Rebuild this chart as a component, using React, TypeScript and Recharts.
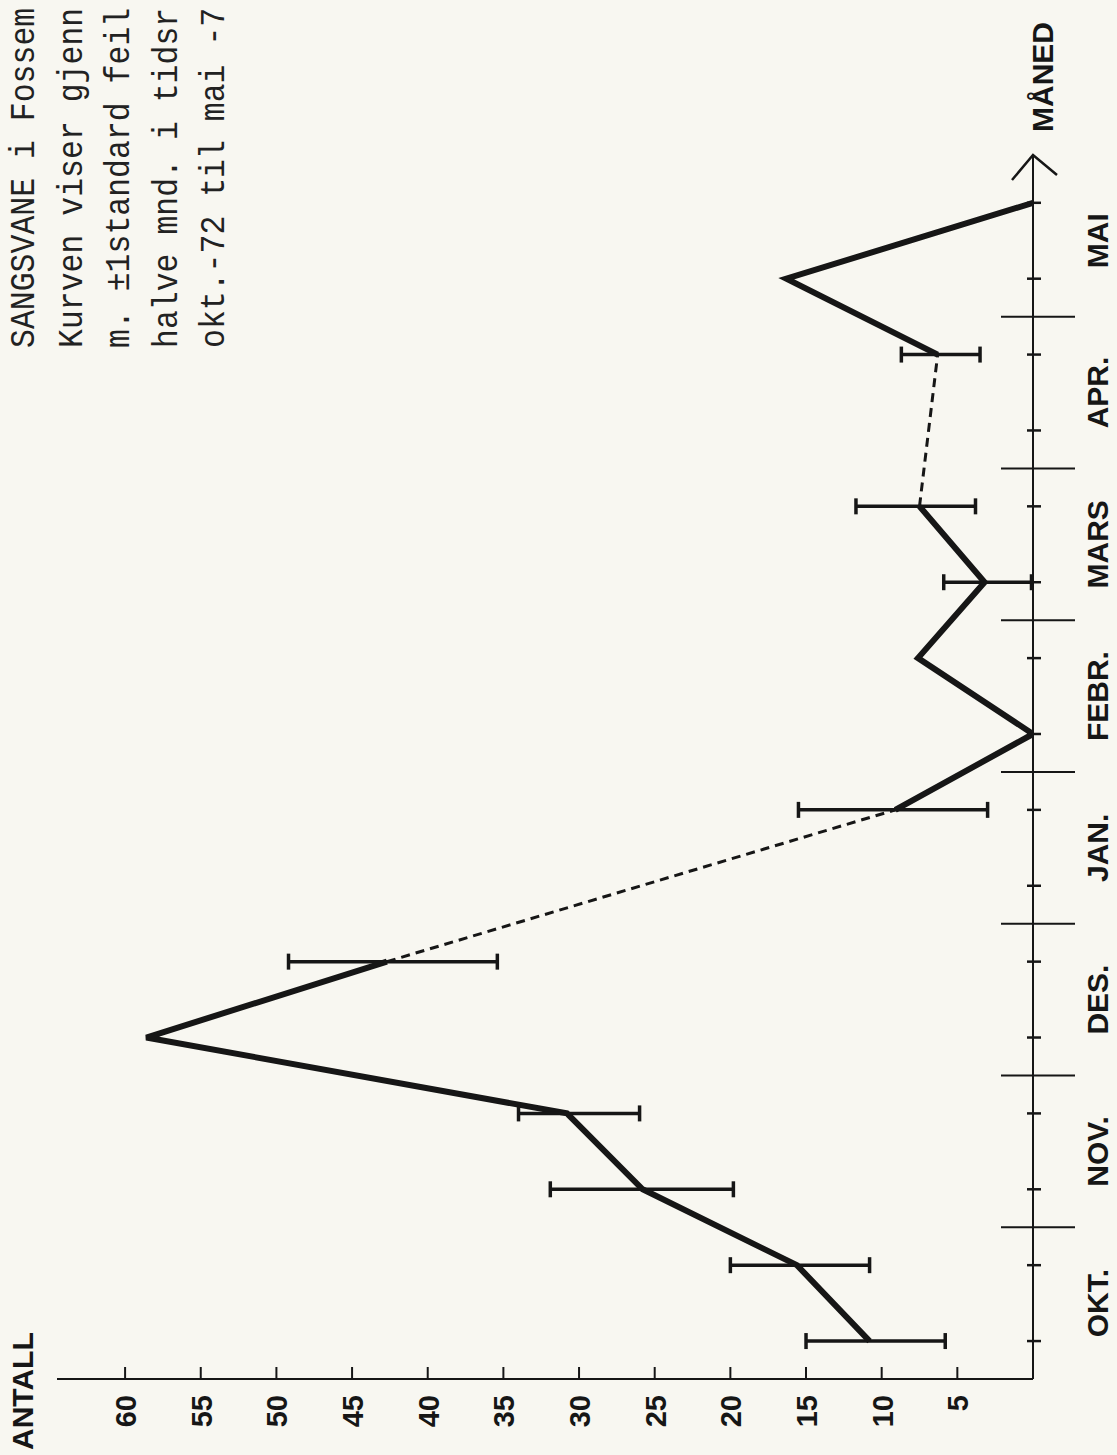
import React from 'react';
import { LineChart, Line, XAxis, YAxis, ErrorBar } from 'recharts';

// half-month slots, OKT. 1st half .. MAI 2nd half
const halfMonths = [
  'okt1', 'okt2', 'nov1', 'nov2', 'des1', 'des2', 'jan1', 'jan2',
  'feb1', 'feb2', 'mar1', 'mar2', 'apr1', 'apr2', 'mai1', 'mai2',
];
const monthLabels = ['OKT.', 'NOV.', 'DES.', 'JAN.', 'FEBR.', 'MARS', 'APR.', 'MAI'];

// mean count per half month (null = no observation)
const counts = [10.8, 15.6, 25.8, 30.8, 58.6, 42.7, null, 9.1, 0, 7.6, 3.2, 7.5, null, 6.3, 16.3, 0];
// +-1 standard error, read as lower / upper ends of the bars
const lowerBound = [5.8, 10.8, 19.8, 26, null, 35.4, null, 3.0, null, null, 0.1, 3.8, null, 3.5, null, null];
const upperBound = [15, 20, 31.9, 34, null, 49.2, null, 15.5, null, null, 5.9, 11.7, null, 8.7, null, null];

const valueTicks = [5, 10, 15, 20, 25, 30, 35, 40, 45, 50, 55, 60];

const noteLines = [
  'SANGSVANE i Fossem',
  'Kurven viser gjenn',
  'm. \u00b11standard feil',
  'halve mnd. i tidsr',
  'okt.-72 til mai -7',
];

const W = 1455; // unrotated width (becomes page height)
const H = 1117; // unrotated height (becomes page width)
const AXIS_Y = 1033;
const AXIS_X = 76;
const X_END = 16.13;
const INK = '#161616';
const PAPER = '#f8f7f1';

// dashed bridges over the missing half months
const bridge = (gap: number) =>
  counts.map((c, i) => (i === gap - 1 || i === gap + 1 ? c : null));
const dashA = bridge(6);
const dashB = bridge(12);

const data = halfMonths.map((h, i) => {
  const c = counts[i];
  const lo = lowerBound[i];
  const hi = upperBound[i];
  return {
    slot: h,
    pos: i + 0.5,
    solid: c,
    mean: c,
    err: c != null && lo != null && hi != null ? [c - lo, hi - c] : null,
    dashA: dashA[i],
    dashB: dashB[i],
  };
});

const xTicks = [...Array.from({ length: 31 }, (_, k) => (k + 1) / 2), X_END];

const MonthTick = (props: any) => {
  const { x, payload } = props;
  const v = payload.value as number;
  if (v === X_END) {
    return (
      <g>
        <polyline
          points={`${x - 25},${AXIS_Y - 21} ${x},${AXIS_Y} ${x - 20},${AXIS_Y + 24}`}
          fill="none"
          stroke={INK}
          strokeWidth={2.5}
        />
        <text x={x + 23} y={AXIS_Y + 20} fontFamily="Liberation Sans, Arial, sans-serif" fontWeight="bold" fontSize={30} fill={INK}>
          MÅNED
        </text>
      </g>
    );
  }
  const k = Math.round(v * 2);
  if (k % 2 === 1) {
    return <line x1={x} x2={x} y1={AXIS_Y - 6} y2={AXIS_Y + 8} stroke={INK} strokeWidth={2.5} />;
  }
  if (k % 4 === 0) {
    return <line x1={x} x2={x} y1={AXIS_Y - 32} y2={AXIS_Y + 42} stroke={INK} strokeWidth={2} />;
  }
  return (
    <text x={x} y={AXIS_Y + 75} textAnchor="middle" fontFamily="Liberation Sans, Arial, sans-serif" fontWeight="bold" fontSize={30} fill={INK}>
      {monthLabels[(k - 2) / 4]}
    </text>
  );
};

const ValueTick = (props: any) => {
  const { y, payload } = props;
  return (
    <g>
      <line x1={AXIS_X} x2={AXIS_X + 12} y1={y} y2={y} stroke={INK} strokeWidth={2} />
      <text x={60} y={y + 11} textAnchor="end" fontFamily="Liberation Sans, Arial, sans-serif" fontWeight="bold" fontSize={29} fill={INK}>
        {payload.value}
      </text>
    </g>
  );
};

export default function App() {
  return (
    <div style={{ position: 'absolute', left: 0, top: 0, width: H, height: W, overflow: 'hidden', background: PAPER }}>
      <div
        style={{
          position: 'absolute',
          left: 0,
          top: 0,
          width: W,
          height: H,
          transformOrigin: '0 0',
          transform: `translateY(${W}px) rotate(-90deg)`,
        }}
      >
        <LineChart width={W} height={H} data={data} margin={{ top: 57, right: W - 1300, bottom: 0, left: 0 }}>
          <XAxis
            type="number"
            dataKey="pos"
            domain={[0, X_END]}
            ticks={xTicks}
            interval={0}
            height={H - AXIS_Y}
            tickLine={false}
            axisLine={{ stroke: INK, strokeWidth: 2 }}
            tick={<MonthTick />}
            allowDataOverflow
          />
          <YAxis
            type="number"
            domain={[0, 64.5]}
            ticks={valueTicks}
            interval={0}
            width={AXIS_X}
            tickLine={false}
            axisLine={{ stroke: INK, strokeWidth: 2 }}
            tick={<ValueTick />}
            allowDataOverflow
          />
          <Line dataKey="dashA" stroke={INK} strokeWidth={3} strokeDasharray="9 6" dot={false} activeDot={false} connectNulls isAnimationActive={false} />
          <Line dataKey="dashB" stroke={INK} strokeWidth={3} strokeDasharray="9 6" dot={false} activeDot={false} connectNulls isAnimationActive={false} />
          <Line dataKey="solid" stroke={INK} strokeWidth={6} strokeLinejoin="miter" dot={false} activeDot={false} isAnimationActive={false} />
          <Line dataKey="mean" stroke="none" dot={false} activeDot={false} isAnimationActive={false}>
            <ErrorBar dataKey="err" direction="y" width={8} stroke={INK} strokeWidth={3.5} isAnimationActive={false} />
          </Line>
        </LineChart>
        <svg width={W} height={H} style={{ position: 'absolute', left: 0, top: 0, pointerEvents: 'none' }}>
          <text x={5} y={33} fontFamily="Liberation Sans, Arial, sans-serif" fontWeight="bold" fontSize={30} fill={INK}>
            ANTALL
          </text>
          {noteLines.map((t, i) => (
            <g key={i} transform={`translate(1107, ${34 + i * 47.5}) scale(1, 1.12)`}>
              <text x={0} y={0} fontFamily="Liberation Mono, Courier New, monospace" fontSize={31.5} fill="#222">
                {t}
              </text>
            </g>
          ))}
        </svg>
      </div>
    </div>
  );
}
